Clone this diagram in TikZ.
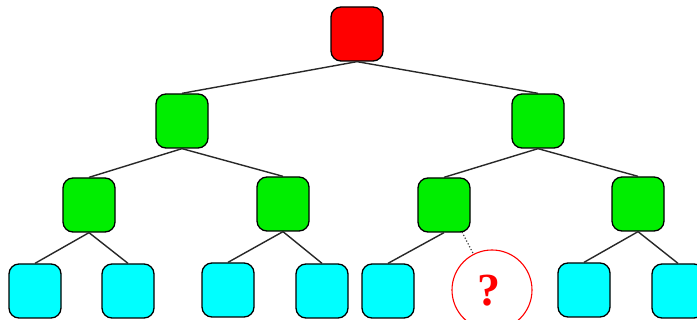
\documentclass[tikz,border=0pt]{standalone}
\usepackage{fontspec}
\setmainfont{Liberation Serif}
\definecolor{leafcyan}{RGB}{0,255,255}
\definecolor{nodegreen}{RGB}{0,238,0}
\definecolor{nodered}{RGB}{255,0,0}
\begin{document}
\begin{tikzpicture}[x=1pt,y=-1pt,
  box/.style={draw=black,line width=1.3pt,rounded corners=10pt,minimum width=52pt,minimum height=54pt,inner sep=0pt},
  rootbox/.style={box,fill=nodered},
  inner/.style={box,fill=nodegreen},
  leaf/.style={box,fill=leafcyan},
  edge/.style={draw={rgb,255:red,40;green,40;blue,40},line width=1.4pt},
  dotedge/.style={draw={rgb,255:red,60;green,60;blue,60},line width=1.2pt,dotted}]
\useasboundingbox (0,0) rectangle (697,320);
\clip (0,0) rectangle (697,320);
\fill[white] (0,0) rectangle (697,320);
% nodes
\node[rootbox] (r) at (357,34) {};
\node[inner] (a) at (182,121) {};
\node[inner] (b) at (538,121) {};
\node[inner] (a1) at (89,205) {};
\node[inner] (a2) at (283,204) {};
\node[inner] (b1) at (444,205) {};
\node[inner] (b2) at (638,204) {};
\node[leaf] (l1) at (35,291) {};
\node[leaf] (l2) at (128,291) {};
\node[leaf] (l3) at (228,290) {};
\node[leaf] (l4) at (322,291) {};
\node[leaf] (l5) at (388,291) {};
\node[draw=nodered,line width=1.1pt,circle,minimum size=80pt,inner sep=0pt] (q) at (492,290) {};
\node[text=nodered,font=\fontsize{46}{46}\selectfont\bfseries,inner sep=0pt] (qm) at (489,291) {?};
\node[leaf] (l7) at (584,290) {};
\node[leaf] (l8) at (678,291) {};
\coordinate (dstart) at (462,232);
% edges
\draw[edge] (r.south) -- (a.north);
\draw[edge] (r.south) -- (b.north);
\draw[edge] (a.south) -- (a1.north);
\draw[edge] (a.south) -- (a2.north);
\draw[edge] (b.south) -- (b1.north);
\draw[edge] (b.south) -- (b2.north);
\draw[edge] (a1.south) -- (l1.north);
\draw[edge] (a1.south) -- (l2.north);
\draw[edge] (a2.south) -- (l3.north);
\draw[edge] (a2.south) -- (l4.north);
\draw[edge] (b1.south) -- (l5.north);
\draw[dotedge] (dstart) -- (q);
\draw[edge] (b2.south) -- (l7.north);
\draw[edge] (b2.south) -- (l8.north);
\end{tikzpicture}
\end{document}
